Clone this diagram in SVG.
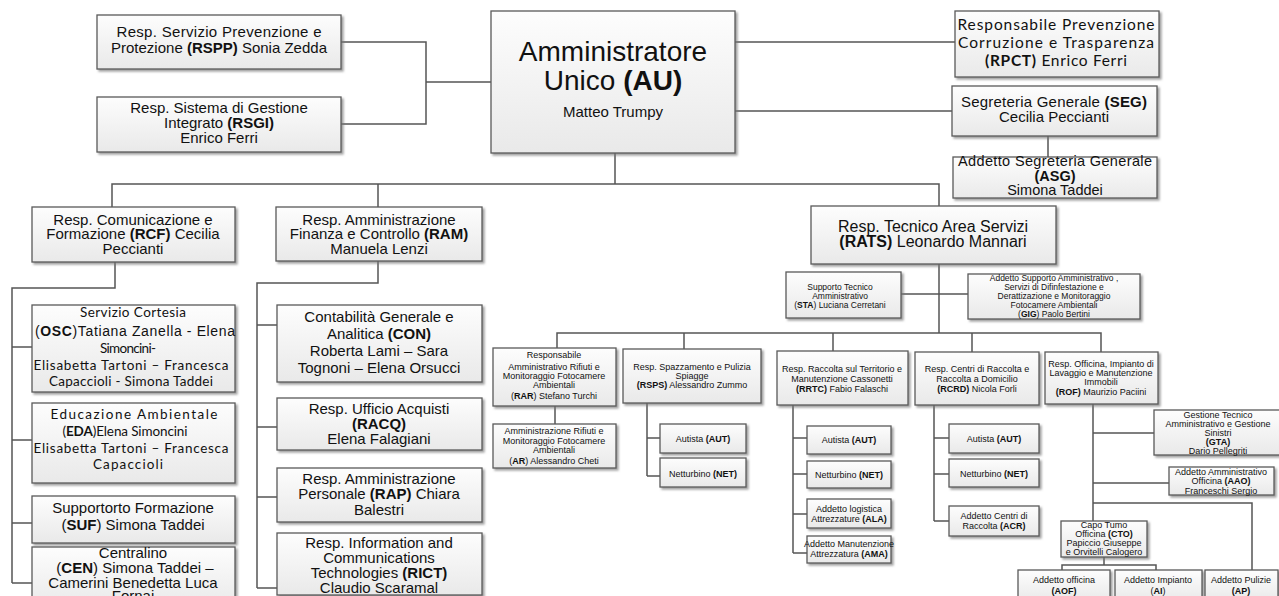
<svg xmlns="http://www.w3.org/2000/svg" width="1279" height="596" viewBox="0 0 1279 596">
<defs>
<linearGradient id="g" x1="0" y1="0" x2="0" y2="1">
<stop offset="0" stop-color="#fdfdfd"/>
<stop offset="1" stop-color="#e9e9e9"/>
</linearGradient>
<filter id="sh" x="-10%" y="-10%" width="130%" height="140%">
<feDropShadow dx="2" dy="2" stdDeviation="1.2" flood-color="#777" flood-opacity="0.7"/>
</filter>
<style>
.box{fill:url(#g);stroke:#5a5a5a;stroke-width:1.3;filter:url(#sh)}
.ln{fill:none;stroke:#555;stroke-width:1.5}
text{fill:#111;text-anchor:middle}
.a{font-family:"Liberation Sans",Arial,sans-serif}
.c{font-family:Lato,"Open Sans",sans-serif}
.b{font-weight:bold}
.m{font-size:15px}
.s{font-size:9px}
.xs{font-size:8.5px}
</style>
</defs>
<rect width="1279" height="596" fill="#fff"/>

<g id="connectors">
<path class="ln" d="M341,42H426V124H341M426,82H491"/>
<path class="ln" d="M735,42H955M735,111H952M1048,136V157"/>
<path class="ln" d="M615,153V184M112,207V184H939V206M378,184V207"/>
<path class="ln" d="M115,262V288H12V583M12,347H32M12,440H32M12,523H32M12,583H32"/>
<path class="ln" d="M378,261V283H257V588M257,325H277M257,427H277M257,497H277M257,588H277"/>
<path class="ln" d="M939,264V333M901,294H968M557,348V333H1101V352M684,333V349M833,333V351M972,333V352"/>
<path class="ln" d="M555,406V424"/>
<path class="ln" d="M647,403V476M647,438H660M647,476H660"/>
<path class="ln" d="M793,405V553M793,438H807M793,474H807M793,514H807M793,553H807"/>
<path class="ln" d="M934,405V521M934,438H949M934,474H949M934,521H949"/>
<path class="ln" d="M1093,404V521M1093,433H1154M1093,483H1169M1093,503H1252V570"/>
<path class="ln" d="M1104,557V565M1062,570V565H1156V570"/>
</g>

<g id="rspp"><rect class="box" x="97" y="15" width="244" height="54"/>
<text class="a m" x="219" y="37" textLength="205">Resp. Servizio Prevenzione e</text>
<text class="a m" x="219" y="53">Protezione <tspan class="b">(RSPP)</tspan> Sonia Zedda</text></g>

<g id="rsgi"><rect class="box" x="97" y="97" width="244" height="55"/>
<text class="a m" x="219" y="113">Resp. Sistema di Gestione</text>
<text class="a m" x="219" y="128">Integrato <tspan class="b">(RSGI)</tspan></text>
<text class="a m" x="219" y="143">Enrico Ferri</text></g>

<g id="au"><rect class="box" x="491" y="11" width="244" height="142"/>
<text class="a" font-size="28" x="613" y="61">Amministratore</text>
<text class="a" font-size="28" x="613" y="90">Unico <tspan class="b">(AU)</tspan></text>
<text class="a" font-size="15" x="613" y="117">Matteo Trumpy</text></g>

<g id="rpct"><rect class="box" x="955" y="11" width="204" height="66"/>
<text class="c" font-size="15.5" x="1056" y="30" textLength="197">Responsabile Prevenzione</text>
<text class="c" font-size="15.5" x="1056" y="48" textLength="196">Corruzione e Trasparenza</text>
<text class="c" font-size="15.5" x="1056" y="66" textLength="142"><tspan class="b">(RPCT)</tspan> Enrico Ferri</text></g>

<g id="seg"><rect class="box" x="952" y="86" width="205" height="50"/>
<text class="a m" x="1054" y="107" textLength="186">Segreteria Generale <tspan class="b">(SEG)</tspan></text>
<text class="a m" x="1054" y="122">Cecilia Peccianti</text></g>

<g id="asg"><rect class="box" x="953" y="157" width="204" height="41"/>
<text class="a" font-size="14.5" x="1055" y="166" textLength="194">Addetto Segreteria Generale</text>
<text class="a b" font-size="14.5" x="1055" y="181">(ASG)</text>
<text class="a" font-size="14.5" x="1055" y="195">Simona Taddei</text></g>

<g id="rcf"><rect class="box" x="32" y="207" width="203" height="55"/>
<text class="a m" x="133" y="225">Resp. Comunicazione e</text>
<text class="a m" x="133" y="239">Formazione <tspan class="b">(RCF)</tspan> Cecilia</text>
<text class="a m" x="133" y="254">Peccianti</text></g>

<g id="ram"><rect class="box" x="276" y="207" width="206" height="54"/>
<text class="a m" x="379" y="225">Resp. Amministrazione</text>
<text class="a m" x="379" y="239">Finanza e Controllo  <tspan class="b">(RAM)</tspan></text>
<text class="a m" x="379" y="254">Manuela Lenzi</text></g>

<g id="rats"><rect class="box" x="811" y="206" width="245" height="58"/>
<text class="a" font-size="16" x="933" y="232">Resp. Tecnico Area Servizi</text>
<text class="a" font-size="16" x="933" y="247"><tspan class="b">(RATS)</tspan> Leonardo Mannari</text></g>

<g id="osc"><rect class="box" x="32" y="305" width="203" height="87"/>
<text class="c" font-size="13.5" x="133" y="317" textLength="106">Servizio  Cortesia</text>
<text class="a" font-size="14" x="135" y="336" textLength="200">(<tspan class="b">OSC</tspan>)Tatiana  Zanella -  Elena</text>
<text class="c" font-size="13.5" x="128" y="353" textLength="56">Simoncini-</text>
<text class="c" font-size="13.5" x="131" y="370" textLength="195">Elisabetta Tartoni  – Francesca</text>
<text class="c" font-size="13.5" x="131" y="386" textLength="164">Capaccioli - Simona Taddei</text></g>

<g id="eda"><rect class="box" x="32" y="403" width="203" height="80"/>
<text class="c" font-size="13.5" x="134" y="419" textLength="167">Educazione Ambientale</text>
<text class="c" font-size="13.5" x="125" y="436" textLength="125">(<tspan class="b">EDA</tspan>)Elena Simoncini</text>
<text class="c" font-size="13.5" x="131" y="453" textLength="195">Elisabetta Tartoni  – Francesca</text>
<text class="c" font-size="13.5" x="128" y="469" textLength="70">Capaccioli</text></g>

<g id="suf"><rect class="box" x="32" y="496" width="203" height="47"/>
<text class="a m" x="133" y="513">Supportorto Formazione</text>
<text class="a m" x="133" y="530">(<tspan class="b">SUF</tspan>) Simona Taddei</text></g>

<g id="cen"><rect class="box" x="32" y="547" width="203" height="62"/>
<text class="a m" x="133" y="558">Centralino</text>
<text class="a m" x="135" y="573">(<tspan class="b">CEN</tspan>) Simona Taddei  –</text>
<text class="a m" x="133" y="588">Camerini Benedetta  Luca</text>
<text class="a m" x="133" y="601">Fornai</text></g>

<g id="con"><rect class="box" x="277" y="305" width="205" height="77"/>
<text class="a m" x="379" y="322">Contabilità Generale e</text>
<text class="a m" x="379" y="339">Analitica <tspan class="b">(CON)</tspan></text>
<text class="a m" x="379" y="356">Roberta Lami  – Sara</text>
<text class="a m" x="379" y="373">Tognoni  – Elena Orsucci</text></g>

<g id="racq"><rect class="box" x="277" y="398" width="205" height="52"/>
<text class="a m" x="379" y="414">Resp. Ufficio Acquisti</text>
<text class="a m b" x="379" y="429">(RACQ)</text>
<text class="a m" x="379" y="444">Elena Falagiani</text></g>

<g id="rap"><rect class="box" x="277" y="468" width="205" height="54"/>
<text class="a m" x="379" y="484">Resp. Amministrazione</text>
<text class="a m" x="379" y="499">Personale <tspan class="b">(RAP)</tspan> Chiara</text>
<text class="a m" x="379" y="515">Balestri</text></g>

<g id="rict"><rect class="box" x="277" y="533" width="205" height="62"/>
<text class="a m" x="379" y="548">Resp. Information and</text>
<text class="a m" x="379" y="563">Communications</text>
<text class="a m" x="379" y="578">Technologies <tspan class="b">(RICT)</tspan></text>
<text class="a m" x="379" y="593">Claudio Scaramal</text></g>

<g id="sta"><rect class="box" x="786" y="272" width="115" height="46"/>
<text class="a xs" x="840" y="290">Supporto Tecnico</text>
<text class="a xs" x="840" y="299">Amministrativo</text>
<text class="a xs" x="840" y="308">(<tspan class="b">STA</tspan>) Luciana Cerretani</text></g>

<g id="gig"><rect class="box" x="968" y="274" width="172" height="45"/>
<text class="a xs" x="1054" y="281">Addetto Supporto Amministrativo  ,</text>
<text class="a xs" x="1054" y="290">Servizi di Difinfestazione e</text>
<text class="a xs" x="1054" y="299">Derattizazione e Monitoraggio</text>
<text class="a xs" x="1054" y="308">Fotocamere Ambientali</text>
<text class="a xs" x="1054" y="317">(<tspan class="b">GIG</tspan>) Paolo Bertini</text></g>

<g id="rar"><rect class="box" x="493" y="348" width="123" height="58"/>
<text class="a s" x="554" y="358">Responsabile</text>
<text class="a s" x="554" y="370">Amministrativo Rifiuti e</text>
<text class="a s" x="554" y="379">Monitoraggio Fotocamere</text>
<text class="a s" x="554" y="388">Ambientali</text>
<text class="a s" x="554" y="399">(<tspan class="b">RAR</tspan>) Stefano Turchi</text></g>

<g id="ar"><rect class="box" x="493" y="424" width="123" height="44"/>
<text class="a s" x="554" y="434">Amministrazione Rifiuti e</text>
<text class="a s" x="554" y="444">Monitoraggio Fotocamere</text>
<text class="a s" x="554" y="453">Ambientali</text>
<text class="a s" x="554" y="464">(<tspan class="b">AR</tspan>) Alessandro Cheti</text></g>

<g id="rsps"><rect class="box" x="623" y="349" width="138" height="54"/>
<text class="a s" x="692" y="370">Resp. Spazzamento e Pulizia</text>
<text class="a s" x="692" y="379">Spiagge</text>
<text class="a s" x="692" y="388"><tspan class="b">(RSPS)</tspan> Alessandro Zummo</text></g>

<g id="aut1"><rect class="box" x="660" y="424" width="86" height="29"/>
<text class="a s" x="703" y="442">Autista <tspan class="b">(AUT)</tspan></text></g>

<g id="net1"><rect class="box" x="660" y="458" width="86" height="29"/>
<text class="a s" x="703" y="477">Netturbino <tspan class="b">(NET)</tspan></text></g>

<g id="rrtc"><rect class="box" x="777" y="351" width="131" height="54"/>
<text class="a s" x="842" y="372">Resp. Raccolta sul Territorio e</text>
<text class="a s" x="842" y="382">Manutenzione Cassonetti</text>
<text class="a s" x="842" y="392"><tspan class="b">(RRTC)</tspan> Fabio Falaschi</text></g>

<g id="rcrd"><rect class="box" x="915" y="352" width="124" height="53"/>
<text class="a s" x="977" y="372">Resp. Centri di Raccolta e</text>
<text class="a s" x="977" y="382">Raccolta a Domicilio</text>
<text class="a s" x="977" y="392"><tspan class="b">(RCRD)</tspan> Nicola Forli</text></g>

<g id="aut2"><rect class="box" x="807" y="426" width="84" height="28"/>
<text class="a s" x="849" y="443">Autista <tspan class="b">(AUT)</tspan></text></g>

<g id="net2"><rect class="box" x="807" y="461" width="84" height="27"/>
<text class="a s" x="849" y="478">Netturbino  <tspan class="b">(NET)</tspan></text></g>

<g id="ala"><rect class="box" x="807" y="499" width="84" height="29"/>
<text class="a s" x="849" y="512">Addetto logistica</text>
<text class="a s" x="849" y="522">Attrezzature <tspan class="b">(ALA)</tspan></text></g>

<g id="ama"><rect class="box" x="807" y="536" width="84" height="27"/>
<text class="a s" x="849" y="547">Addetto Manutenzione</text>
<text class="a s" x="849" y="557">Attrezzatura  <tspan class="b">(AMA)</tspan></text></g>

<g id="aut3"><rect class="box" x="949" y="424" width="90" height="29"/>
<text class="a s" x="994" y="442">Autista <tspan class="b">(AUT)</tspan></text></g>

<g id="net3"><rect class="box" x="949" y="459" width="90" height="28"/>
<text class="a s" x="994" y="477">Netturbino <tspan class="b">(NET)</tspan></text></g>

<g id="acr"><rect class="box" x="949" y="506" width="90" height="30"/>
<text class="a s" x="994" y="519">Addetto Centri di</text>
<text class="a s" x="994" y="529">Raccolta <tspan class="b">(ACR)</tspan></text></g>

<g id="rof"><rect class="box" x="1045" y="352" width="113" height="52"/>
<text class="a s" x="1101" y="367">Resp. Officina, Impianto di</text>
<text class="a s" x="1101" y="376">Lavaggio e Manutenzione</text>
<text class="a s" x="1101" y="385">Immobili</text>
<text class="a s" x="1101" y="395"><tspan class="b">(ROF)</tspan> Maurizio Paciini</text></g>

<g id="gta"><rect class="box" x="1154" y="410" width="126" height="45"/>
<text class="a s" x="1218" y="418">Gestione Tecnico</text>
<text class="a s" x="1218" y="427">Amministrativo e Gestione</text>
<text class="a s" x="1218" y="436">Sinistri</text>
<text class="a s b" x="1218" y="445">(GTA)</text>
<text class="a s" x="1218" y="454">Dario Pellegriti</text></g>

<g id="aao"><rect class="box" x="1169" y="467" width="105" height="28"/>
<text class="a s" x="1221" y="475">Addetto Amministrativo</text>
<text class="a s" x="1221" y="484">Officina <tspan class="b">(AAO)</tspan></text>
<text class="a s" x="1221" y="494">Franceschi Sergio</text></g>

<g id="cto"><rect class="box" x="1061" y="521" width="86" height="36"/>
<text class="a s" x="1104" y="528">Capo Tumo</text>
<text class="a s" x="1104" y="537">Officina <tspan class="b">(CTO)</tspan></text>
<text class="a s" x="1104" y="546">Papiccio Giuseppe</text>
<text class="a s" x="1104" y="555">e Orvitelli Calogero</text></g>

<g id="aof"><rect class="box" x="1018" y="570" width="92" height="32"/>
<text class="a s" x="1064" y="583">Addetto officina</text>
<text class="a s b" x="1064" y="594">(AOF)</text></g>

<g id="ai"><rect class="box" x="1115" y="570" width="87" height="32"/>
<text class="a s" x="1158" y="583">Addetto Impianto</text>
<text class="a s" x="1158" y="594">(<tspan class="b">AI</tspan>)</text></g>

<g id="ap"><rect class="box" x="1205" y="570" width="73" height="32"/>
<text class="a s" x="1241" y="583">Addetto Pulizie</text>
<text class="a s b" x="1241" y="594">(AP)</text></g>
</svg>
